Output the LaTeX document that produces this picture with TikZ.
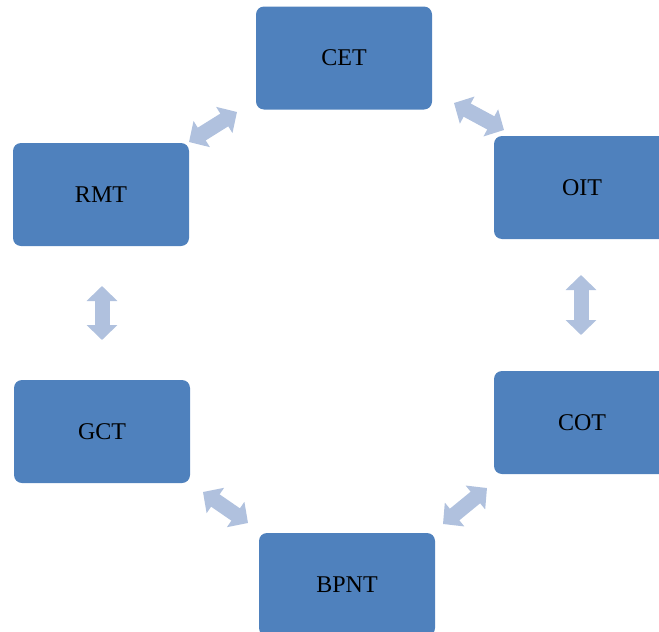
\documentclass[tikz,border=0pt]{standalone}
\usepackage{fontspec}
\setmainfont{Liberation Serif}
\usetikzlibrary{arrows.meta}
\definecolor{boxblue}{HTML}{4F81BD}
\definecolor{arrowblue}{HTML}{B0C1DE}
\tikzset{
  stagebox/.style={fill=boxblue, draw=none, rounded corners=8pt, minimum width=176pt, minimum height=103pt, font=\fontsize{24pt}{28pt}\selectfont, text=black, inner sep=0pt},
  dblarrow/.style={draw=arrowblue, line width=15pt, {Triangle[length=15pt,width=30pt]}-{Triangle[length=15pt,width=30pt]}}
}
\begin{document}
\begin{tikzpicture}[x=1pt,y=-1pt]
\useasboundingbox (0,0) rectangle (659,632);
\clip (0,0) rectangle (659,632);
\node[stagebox] (cet) at (344,58) {CET};
\node[stagebox] (oit) at (582,187.5) {OIT};
\node[stagebox] (cot) at (582,422.5) {COT};
\node[stagebox] (bpnt) at (347,584.5) {BPNT};
\node[stagebox] (gct) at (102,431.5) {GCT};
\node[stagebox] (rmt) at (101,194.5) {RMT};
\coordinate (a1s) at (189,142);
\coordinate (a1e) at (237,112);
\coordinate (a2s) at (454,103);
\coordinate (a2e) at (504,130);
\coordinate (a3s) at (581,275);
\coordinate (a3e) at (581,335);
\coordinate (a4s) at (487,488);
\coordinate (a4e) at (443,524);
\coordinate (a5s) at (248,523);
\coordinate (a5e) at (203,492);
\coordinate (a6s) at (102,340);
\coordinate (a6e) at (102,286);
\draw[dblarrow] (a1s) -- (a1e);
\draw[dblarrow] (a2s) -- (a2e);
\draw[dblarrow] (a3s) -- (a3e);
\draw[dblarrow] (a4s) -- (a4e);
\draw[dblarrow] (a5s) -- (a5e);
\draw[dblarrow] (a6s) -- (a6e);
\end{tikzpicture}
\end{document}
